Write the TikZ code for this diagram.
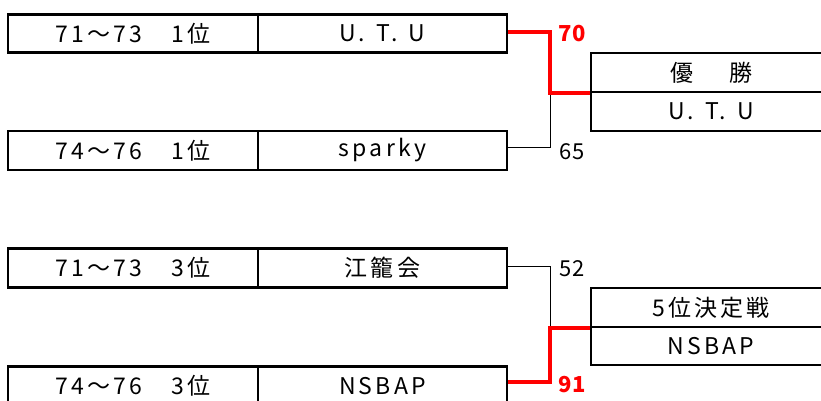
\documentclass[tikz,border=0pt]{standalone}
\usepackage{fontspec}
\setmainfont{Noto Sans CJK JP}[LetterSpace=14]
\newfontfamily\scorefont{Noto Sans CJK JP}
\begin{document}
\begin{tikzpicture}[x=1pt,y=-1pt,
  cell/.style={draw, line width=2.6pt, inner sep=0pt, font=\fontsize{23}{26}\selectfont},
  win/.style={draw=red, line width=4pt},
  lose/.style={draw=black, line width=1pt},
  score/.style={inner sep=0pt, font=\scorefont\fontsize{22}{24}\selectfont}]
\clip (0,0) rectangle (821,401);
% upper bracket
\node[cell,minimum width=250,minimum height=38] (a1) at (133,33.5) {71～73　1位};
\node[cell,minimum width=249,minimum height=38] (b1) at (382.5,33.5) {U. \hspace{3pt}T. \hspace{3pt}U};
\node[cell,minimum width=250,minimum height=39] (a2) at (133,150.5) {74～76　1位};
\node[cell,minimum width=249,minimum height=39] (b2) at (382.5,150.5) {sparky};
\node[cell,minimum width=240,minimum height=39] (w1) at (711,72.5) {優\hspace{36pt}勝};
\node[cell,minimum width=240,minimum height=39] (w2) at (711,111.5) {U. \hspace{3pt}T. \hspace{3pt}U};
\coordinate (j1) at ([xshift=42pt]b1.east);
\draw[lose] ([yshift=3pt]b2.east) -| (j1 |- w1.south west);
\draw[win] ([yshift=1.5pt]b1.east) -- ([yshift=1.5pt]j1) |- (w1.south west);
\node[score, text=red, font=\scorefont\fontsize{22}{24}\bfseries] (s1) at (572,34) {70};
\node[score] (s2) at (572,152) {65};
% lower bracket
\node[cell,minimum width=250,minimum height=38.5] (c1) at (133,268) {71～73　3位};
\node[cell,minimum width=249,minimum height=38.5] (d1) at (382.5,268) {江籠会};
\node[cell,minimum width=250,minimum height=39] (c2) at (133,386) {74～76　3位};
\node[cell,minimum width=249,minimum height=39] (d2) at (382.5,386) {NSBAP};
\node[cell,minimum width=240,minimum height=39] (f1) at (711,307.5) {5位決定戦};
\node[cell,minimum width=240,minimum height=38] (f2) at (711,346) {NSBAP};
\coordinate (j2) at ([xshift=42pt]d1.east);
\draw[lose] ([yshift=2pt]d1.east) -| (j2 |- f1.south west);
\draw[win] ([yshift=4pt]d2.east) -| (j2 |- f1.south west) -- (f1.south west);
\node[score] (s3) at (572,269) {52};
\node[score, text=red, font=\scorefont\fontsize{22}{24}\bfseries] (s4) at (572,385) {91};
\end{tikzpicture}
\end{document}
